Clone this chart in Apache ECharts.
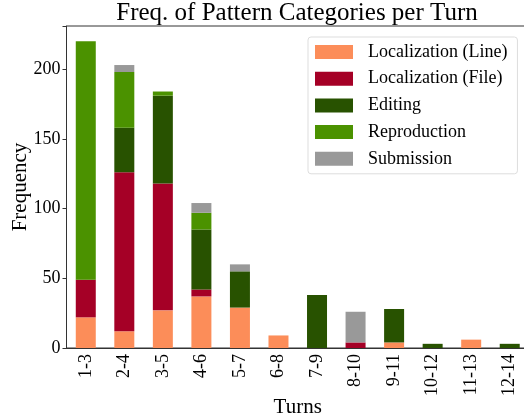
<!DOCTYPE html>
<html>
<head>
<meta charset="utf-8">
<script src="https://cdn.jsdelivr.net/npm/echarts@6/dist/echarts.min.js"></script>
<style>
  html, body { margin: 0; padding: 0; background: #fff; }
</style>
</head>
<body>
<div id="chart" style="width: 524px; height: 418px;"></div>
<script>
// data
var turns = ['1-3', '2-4', '3-5', '4-6', '5-7', '6-8', '7-9', '8-10', '9-11', '10-12', '11-13', '12-14'];
var locLine = [22, 12, 27, 37, 29, 9, 0, 0, 4, 0, 6, 0];
var locFile = [27, 114, 91, 5, 0, 0, 0, 4, 0, 0, 0, 0];
var editing = [0, 32, 63, 43, 26, 0, 38, 0, 24, 3, 0, 3];
var repro = [171, 40, 3, 12, 0, 0, 0, 0, 0, 0, 0, 0];
var submission = [0, 5, 0, 7, 5, 0, 0, 22, 0, 0, 0, 0];
var yTicks = [0, 50, 100, 150, 200];

var font = 'Liberation Serif';
var colors = ['#fc8d59', '#a50026', '#285200', '#4b9200', '#999999'];

function mk(name, data, color) {
    return {
        name: name,
        type: 'bar',
        stack: 'total',
        data: data,
        barWidth: 20,
        itemStyle: { color: color },
        emphasis: { disabled: true }
    };
}

var myChart = echarts.init(document.getElementById('chart'));
myChart.setOption({
    animation: false,
    textStyle: { fontFamily: font },
    title: {
        text: 'Freq. of Pattern Categories per Turn',
        left: 297,
        textAlign: 'center',
        top: 1,
        padding: 0,
        textStyle: { fontFamily: font, fontSize: 25, fontWeight: 'normal', color: '#000' }
    },
    legend: {
        orient: 'vertical',
        left: 308,
        top: 37,
        width: 212,
        padding: [6, 10, 6, 7],
        itemWidth: 38,
        itemHeight: 14,
        itemGap: 8.7,
        borderColor: '#ddd',
        borderWidth: 1,
        borderRadius: 3,
        backgroundColor: 'rgba(255,255,255,0.8)',
        icon: 'rect',
        textStyle: { fontFamily: font, fontSize: 18, color: '#000', lineHeight: 18, padding: [0, 0, 0, 10] },
        data: ['Localization (Line)', 'Localization (File)', 'Editing', 'Reproduction', 'Submission']
    },
    grid: {
        left: 66.5,
        right: -5,
        top: 26,
        bottom: 70,
        show: true,
        borderColor: '#333',
        borderWidth: 1,
        containLabel: false,
        outerBoundsMode: 'none'
    },
    xAxis: {
        type: 'category',
        data: turns,
        name: 'Turns',
        nameLocation: 'middle',
        nameGap: 49,
        nameMoveOverlap: false,
        nameTextStyle: { fontFamily: font, fontSize: 21, color: '#000', verticalAlign: 'top' },
        axisLine: { lineStyle: { color: '#333' } },
        axisTick: { alignWithLabel: true, length: 4, lineStyle: { color: '#333' } },
        axisLabel: { rotate: 90, fontFamily: font, fontSize: 18, color: '#000', margin: 6, interval: 0 }
    },
    yAxis: {
        type: 'value',
        min: yTicks[0],
        max: 231,
        interval: 50,
        name: 'Frequency',
        nameLocation: 'middle',
        nameGap: 36,
        nameMoveOverlap: false,
        nameTextStyle: { fontFamily: font, fontSize: 21, color: '#000' },
        splitLine: { show: false },
        axisLine: { show: true, lineStyle: { color: '#333' } },
        axisTick: { show: true, length: 4, lineStyle: { color: '#333' } },
        axisLabel: {
            fontFamily: font, fontSize: 18, color: '#000', margin: 6,
            formatter: function (v) { return yTicks.indexOf(v) >= 0 ? v : ''; }
        }
    },
    series: [
        mk('Localization (Line)', locLine, colors[0]),
        mk('Localization (File)', locFile, colors[1]),
        mk('Editing', editing, colors[2]),
        mk('Reproduction', repro, colors[3]),
        mk('Submission', submission, colors[4])
    ]
});
</script>
</body>
</html>
